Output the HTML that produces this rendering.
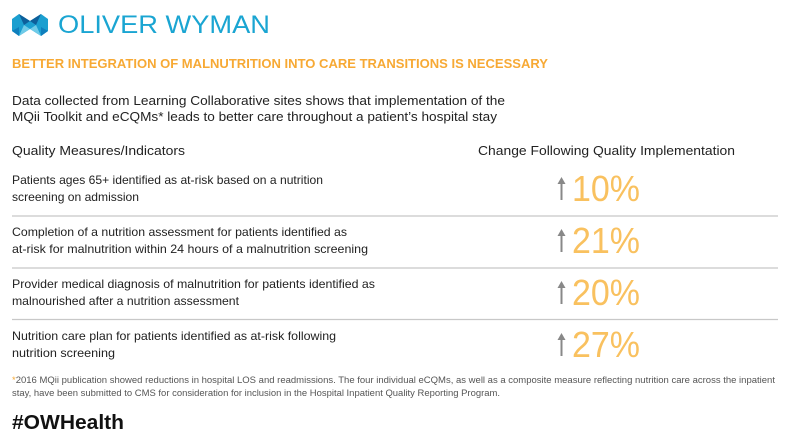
<!DOCTYPE html>
<html><head><meta charset="utf-8"><style>
html,body{margin:0;padding:0;background:#fff;}
svg{display:block;}
text{font-family:"Liberation Sans",sans-serif;}
</style></head><body>
<svg width="790" height="445" viewBox="0 0 790 445" xmlns="http://www.w3.org/2000/svg">
<rect width="790" height="445" fill="#fff"/>
<g>
<polygon points="12,19 19,14 30,21 30,29 19,36 12,31" fill="#1b9fd0"/>
<polygon points="30,21 41,14 48,19 48,31 41,36 30,29" fill="#1b9fd0"/>
<polygon points="19,14 30,21 24,25" fill="#0d5f9a"/>
<polygon points="41,14 30,21 36,25" fill="#0d5f9a"/>
<polygon points="12,31 19,36 19,27" fill="#0f7fbd"/>
<polygon points="30,29 24,25 19,36" fill="#6fcbe8"/>
<polygon points="30,29 36,25 41,36" fill="#6fcbe8"/>
<polygon points="48,31 41,36 41,27" fill="#0f7fbd"/>
</g>
<text x="58" y="33" font-size="25" fill="#1aa5d2" textLength="212" lengthAdjust="spacingAndGlyphs">OLIVER WYMAN</text>
<text x="12" y="68" font-size="12.5" font-weight="bold" fill="#f7a934" textLength="536" lengthAdjust="spacingAndGlyphs">BETTER INTEGRATION OF MALNUTRITION INTO CARE TRANSITIONS IS NECESSARY</text>
<text x="12" y="105" font-size="13" fill="#222" textLength="493" lengthAdjust="spacingAndGlyphs">Data collected from Learning Collaborative sites shows that implementation of the</text>
<text x="12" y="121" font-size="13" fill="#222" textLength="485" lengthAdjust="spacingAndGlyphs">MQii Toolkit and eCQMs* leads to better care throughout a patient’s hospital stay</text>
<text x="12" y="155" font-size="13" fill="#222" textLength="173" lengthAdjust="spacingAndGlyphs">Quality Measures/Indicators</text>
<text x="478" y="155" font-size="13" fill="#222" textLength="257" lengthAdjust="spacingAndGlyphs">Change Following Quality Implementation</text>
<g font-size="12" fill="#222">
<text x="12" y="184" textLength="311" lengthAdjust="spacingAndGlyphs">Patients ages 65+ identified as at-risk based on a nutrition</text>
<text x="12" y="201" textLength="127" lengthAdjust="spacingAndGlyphs">screening on admission</text>
<text x="12" y="236" textLength="335" lengthAdjust="spacingAndGlyphs">Completion of a nutrition assessment for patients identified as</text>
<text x="12" y="253" textLength="356" lengthAdjust="spacingAndGlyphs">at-risk for malnutrition within 24 hours of a malnutrition screening</text>
<text x="12" y="288" textLength="363" lengthAdjust="spacingAndGlyphs">Provider medical diagnosis of malnutrition for patients identified as</text>
<text x="12" y="305" textLength="227" lengthAdjust="spacingAndGlyphs">malnourished after a nutrition assessment</text>
<text x="12" y="340" textLength="324" lengthAdjust="spacingAndGlyphs">Nutrition care plan for patients identified as at-risk following</text>
<text x="12" y="357" textLength="103" lengthAdjust="spacingAndGlyphs">nutrition screening</text>
</g>
<g stroke="#c8c8c8" stroke-width="1.2">
<line x1="12" y1="216" x2="778" y2="216"/>
<line x1="12" y1="268" x2="778" y2="268"/>
<line x1="12" y1="319.5" x2="778" y2="319.5"/>
</g>
<g fill="#f9c15f" font-size="36">
<text x="572" y="201" textLength="68" lengthAdjust="spacingAndGlyphs">10%</text>
<text x="572" y="253" textLength="68" lengthAdjust="spacingAndGlyphs">21%</text>
<text x="572" y="305" textLength="68" lengthAdjust="spacingAndGlyphs">20%</text>
<text x="572" y="357" textLength="68" lengthAdjust="spacingAndGlyphs">27%</text>
</g>
<g fill="#888" stroke="#888">
<g id="a"><line x1="561.5" y1="183" x2="561.5" y2="200" stroke-width="2"/><polygon points="557.5,184 561.5,177 565.5,184" stroke="none"/></g>
<use href="#a" y="52"/><use href="#a" y="104"/><use href="#a" y="156"/>
</g>
<text x="12" y="383" font-size="9" fill="#555" textLength="763" lengthAdjust="spacingAndGlyphs"><tspan fill="#f7a934">*</tspan>2016 MQii publication showed reductions in hospital LOS and readmissions.  The four individual eCQMs, as well as a composite measure reflecting nutrition care across the inpatient</text>
<text x="12" y="396" font-size="9" fill="#555" textLength="488" lengthAdjust="spacingAndGlyphs">stay, have been submitted to CMS for consideration for inclusion in the Hospital Inpatient Quality Reporting Program.</text>
<text x="12" y="429" font-size="20" font-weight="bold" fill="#111" textLength="112" lengthAdjust="spacingAndGlyphs">#OWHealth</text>
</svg>
</body></html>
